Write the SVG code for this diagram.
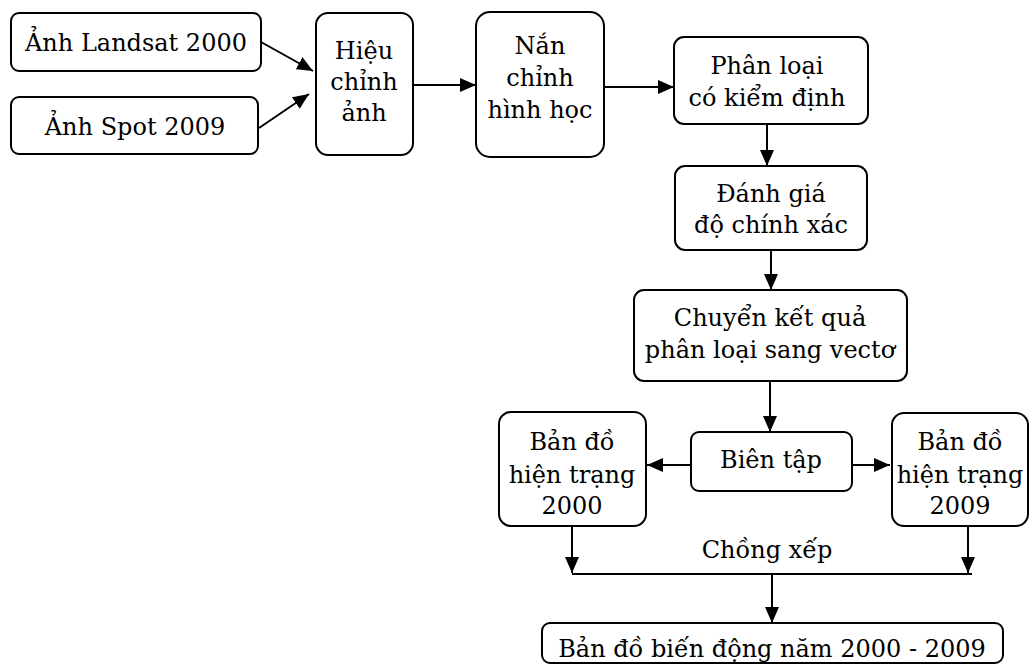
<svg xmlns="http://www.w3.org/2000/svg" width="1030" height="664" viewBox="0 0 1030 664">
<style>
.box{fill:#fff;stroke:#000;stroke-width:2}
.t{font-family:"DejaVu Serif","Liberation Serif",serif;font-size:24px;fill:#000;text-anchor:middle}
.c{stroke:#000;stroke-width:2;fill:none}
</style>
<defs>
<marker id="ah" markerWidth="16" markerHeight="14" refX="16" refY="7" orient="auto" markerUnits="userSpaceOnUse">
<path d="M0,0 L16,7 L0,14 Z" fill="#000"/>
</marker>
</defs>
<rect width="1030" height="664" fill="#fff"/>
<g id="connectors">
<line class="c" x1="261" y1="42" x2="313" y2="71" marker-end="url(#ah)"/>
<line class="c" x1="259" y1="128" x2="309" y2="94" marker-end="url(#ah)"/>
<line class="c" x1="413" y1="85" x2="476" y2="85" marker-end="url(#ah)"/>
<line class="c" x1="604" y1="87" x2="674" y2="87" marker-end="url(#ah)"/>
<line class="c" x1="767" y1="124" x2="767" y2="166" marker-end="url(#ah)"/>
<line class="c" x1="771" y1="250" x2="771" y2="290" marker-end="url(#ah)"/>
<line class="c" x1="770" y1="381" x2="770" y2="432" marker-end="url(#ah)"/>
<line class="c" x1="691" y1="465" x2="647" y2="465" marker-end="url(#ah)"/>
<line class="c" x1="852" y1="465" x2="890" y2="465" marker-end="url(#ah)"/>
<line class="c" x1="572" y1="526" x2="572" y2="573" marker-end="url(#ah)"/>
<line class="c" x1="968" y1="526" x2="968" y2="573" marker-end="url(#ah)"/>
<line class="c" x1="572" y1="574" x2="972" y2="574"/>
<line class="c" x1="772" y1="574" x2="772" y2="623" marker-end="url(#ah)"/>
<text class="t" x="767" y="558">Chồng xếp</text>
</g>
<g id="n1"><rect class="box" x="11" y="13" width="250" height="58" rx="8"/><text class="t" x="136" y="51">Ảnh Landsat 2000</text></g>
<g id="n2"><rect class="box" x="11" y="97" width="247" height="57" rx="8"/><text class="t" x="135" y="135">Ảnh Spot 2009</text></g>
<g id="n3"><rect class="box" x="316" y="13" width="97" height="142" rx="12"/><text class="t" x="364" y="59">Hiệu</text><text class="t" x="364" y="90">chỉnh</text><text class="t" x="364" y="121">ảnh</text></g>
<g id="n4"><rect class="box" x="476" y="12" width="128" height="145" rx="14"/><text class="t" x="540" y="54">Nắn</text><text class="t" x="540" y="86">chỉnh</text><text class="t" x="540" y="118">hình học</text></g>
<g id="n5"><rect class="box" x="674" y="37" width="194" height="87" rx="10"/><text class="t" x="767" y="74">Phân loại</text><text class="t" x="767" y="106">có kiểm định</text></g>
<g id="n6"><rect class="box" x="675" y="166" width="192" height="84" rx="10"/><text class="t" x="771" y="202">Đánh giá</text><text class="t" x="771" y="233">độ chính xác</text></g>
<g id="n7"><rect class="box" x="634" y="290" width="273" height="91" rx="10"/><text class="t" x="770" y="326">Chuyển kết quả</text><text class="t" x="770" y="358">phân loại sang vectơ</text></g>
<g id="n8"><rect class="box" x="691" y="432" width="161" height="59" rx="8"/><text class="t" x="771" y="468">Biên tập</text></g>
<g id="n9"><rect class="box" x="499" y="412" width="147" height="114" rx="12"/><text class="t" x="572" y="450">Bản đồ</text><text class="t" x="572" y="483">hiện trạng</text><text class="t" x="572" y="514">2000</text></g>
<g id="n10"><rect class="box" x="892" y="413" width="136" height="113" rx="12"/><text class="t" x="960" y="450">Bản đồ</text><text class="t" x="960" y="483">hiện trạng</text><text class="t" x="960" y="514">2009</text></g>
<g id="n11"><rect class="box" x="542" y="623" width="461" height="40" rx="8"/><text class="t" x="772" y="657">Bản đồ biến động năm 2000 - 2009</text></g>
</svg>
